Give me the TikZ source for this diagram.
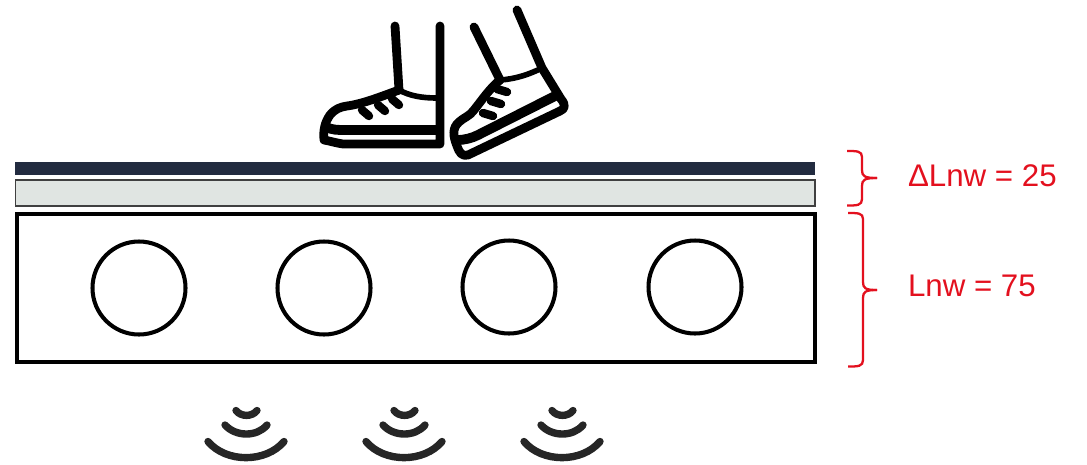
\documentclass[tikz,border=0pt]{standalone}
\usepackage{fontspec}
\setmainfont{Liberation Sans}
\definecolor{deckblue}{HTML}{222B40}
\definecolor{deckgrey}{HTML}{E0E5E2}
\definecolor{bracered}{HTML}{E3101E}
\definecolor{wavegrey}{HTML}{262626}

\begin{document}
\begin{tikzpicture}[x=0.02cm,y=-0.02cm,
  bar/.style={draw,inner sep=0pt,outer sep=0pt,anchor=north west},
  topbar/.style={bar,draw=none,fill=deckblue,minimum width=800*0.02cm,minimum height=13*0.02cm},
  midbar/.style={bar,draw=black!75,line width=0.8pt,fill=deckgrey,minimum width=799.5*0.02cm,minimum height=26*0.02cm},
  frame/.style={bar,draw=black,line width=2.4pt,minimum width=798*0.02cm,minimum height=148.5*0.02cm},
  hole/.style={circle,draw=black,line width=2.3pt,inner sep=0pt,outer sep=0pt,minimum size=93*0.02cm},
  shoe/.style={draw=black,line width=5pt,line cap=round,line join=round},
  lace/.style={shoe,line width=4.8pt},
  wave/.style={draw=wavegrey,line width=4.2pt,line cap=round},
  brace/.style={draw=bracered,line width=1.3pt},
  lab/.style={anchor=base west,inner sep=0pt,outer sep=0pt,text=bracered,font=\fontsize{17.8}{21}\selectfont}]
\useasboundingbox (0,0) rectangle (1087,464);
% floor layers
\node[topbar] (top) at (15,162) {};
\node[midbar] (mid) at (15.5,180) {};
\node[frame] (box) at (17,213.7) {};
\foreach \x/\y/\n in {139/288/a,324/288/b,509/287/c,695/287/d}{
  \node[hole] (hole\n) at (\x,\y) {};}
% left shoe
\draw[shoe] (395,26) -- (399,90);
\draw[shoe] (440,26) -- (440,144) -- (343,144) .. controls (336,143) and (330,141) .. (324,140)
  .. controls (323,130) and (325,122) .. (330,115) .. controls (335,109) and (340,107) .. (347,106)
  .. controls (362,104) and (380,97) .. (399,90);
\draw[shoe,line width=5.6pt,line cap=butt] (326,127) .. controls (332,130) and (338,130) .. (345,130) -- (438,130);
\draw[shoe,line width=3.2pt] (399,90) .. controls (410,96) and (422,98) .. (437,98);
\foreach \x/\y in {362/110,378/105,392/99}{
  \draw[lace] (\x,\y) -- ++(7,6);}
% right shoe
\draw[shoe] (474,27) -- (500,80);
\draw[shoe] (517,10) -- (542,68) -- (561,99) .. controls (566,105) and (565,109) .. (560,111) -- (468,155)
  .. controls (462,157) and (459,152) .. (457,146) .. controls (453,136) and (452,128) .. (459,122)
  .. controls (463,118) and (470,116) .. (474,110) .. controls (482,100) and (490,88) .. (500,80);
\draw[shoe,line width=3.2pt] (500,80) .. controls (516,79) and (530,74) .. (542,68);
\draw[shoe,line width=5.6pt,line cap=butt] (457,140) .. controls (465,140) and (472,138) .. (478,135) -- (555,96);
\foreach \x/\y in {497/89,491/101,483/113}{
  \draw[lace] (\x,\y) -- ++(10,3);}
% waves underneath
\foreach \x in {247,405,563}{
  \draw[wave] (\x-11,410.5) .. controls (\x-6,417) and (\x+5,417) .. (\x+10,410.5);
  \draw[wave] (\x-22,425) .. controls (\x-11,437) and (\x+10,437) .. (\x+20,425);
  \draw[wave] (\x-39,441.5) .. controls (\x-21,463) and (\x+19,463) .. (\x+37,441.5);}
% size braces
\draw[brace] (847,151) .. controls (857,151) and (862,151) .. (862,157) -- (862,170)
  .. controls (862,176) and (864,178) .. (877,178);
\draw[brace] (847,205.5) .. controls (857,205.5) and (862,205.5) .. (862,199) -- (862,186)
  .. controls (862,180) and (864,178) .. (877,178);
\draw[brace] (848,213) .. controls (858,213) and (863,213) .. (863,219) -- (863,282)
  .. controls (863,288) and (865,290) .. (877,290);
\draw[brace] (848,366.5) .. controls (858,366.5) and (863,366.5) .. (863,360) -- (863,298)
  .. controls (863,292) and (865,290) .. (877,290);
\node[lab] (dlnw) at (908,186) {ΔLnw = 25};
\node[lab] (lnw) at (908,296) {Lnw = 75};
\end{tikzpicture}
\end{document}
